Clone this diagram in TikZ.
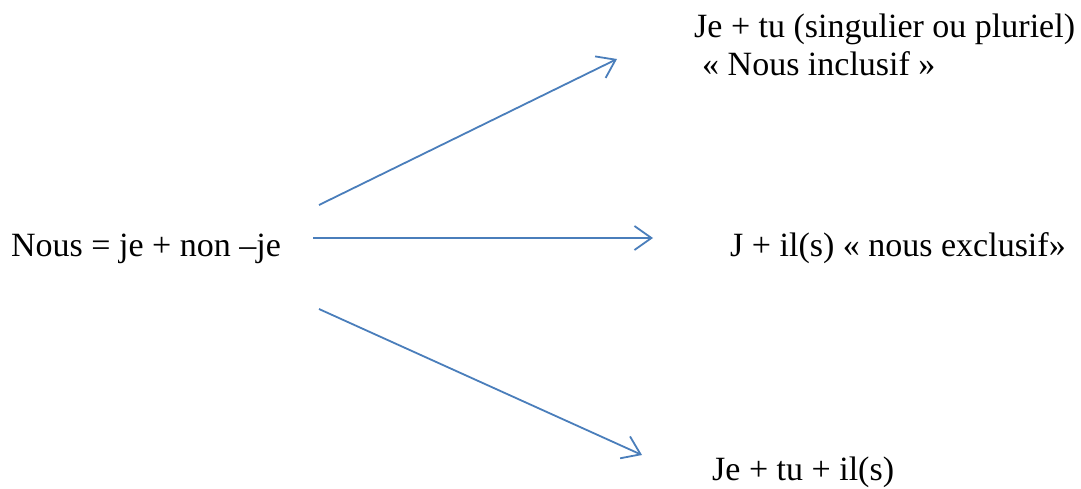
\documentclass[tikz,border=0pt]{standalone}
\usepackage{fontspec}
\setmainfont{Liberation Serif}
\usetikzlibrary{arrows.meta}
\definecolor{ArrowBlue}{HTML}{4A7EBB}

\begin{document}
\begin{tikzpicture}[x=1pt,y=-1pt,>={Straight Barb[length=17pt,width=24pt,line width=1.8pt]}]
    \tikzstyle{txt}=[anchor=base west,inner sep=0pt,font=\fontsize{34}{38}\selectfont]
    \tikzstyle{link}=[->,draw=ArrowBlue,line width=1.8pt]
    \useasboundingbox (0,0) rectangle (1081,488);
    \node[txt] (nous)  at (11,256)  {Nous = je + non –je};
    \node[txt] (inclA) at (694,37)  {Je + tu (singulier ou pluriel)};
    \node[txt] (inclB) at (702,75)  {« Nous inclusif »};
    \node[txt] (excl)  at (730,256) {J + il(s) « nous exclusif»};
    \node[txt] (tous)  at (712,480) {Je + tu + il(s)};
    \coordinate (sUp)  at (319,205);
    \coordinate (sMid) at (313,238);
    \coordinate (sLow) at (319,309);
    \coordinate (eUp)  at (617,59);
    \coordinate (eMid) at (653,238);
    \coordinate (eLow) at (642,455);
    \draw[link] (sUp) -- (eUp);
    \draw[link] (sMid) -- (eMid);
    \draw[link] (sLow) -- (eLow);
  \end{tikzpicture}
\end{document}
